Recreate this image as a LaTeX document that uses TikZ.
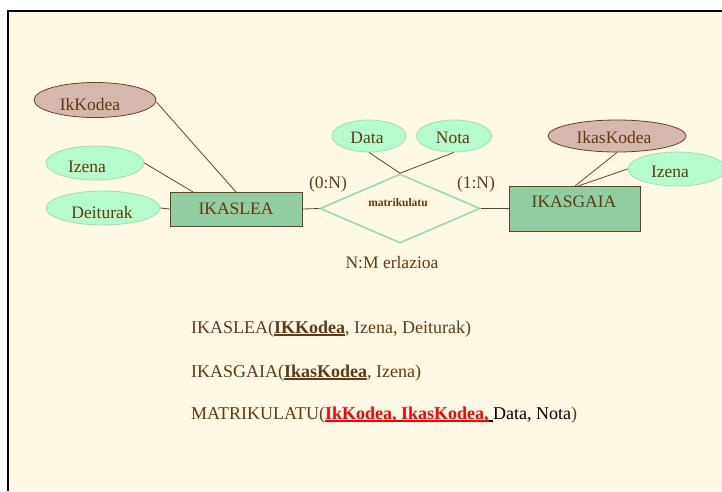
\documentclass[tikz,border=0pt]{standalone}
\usepackage{fontspec}
\setmainfont{Liberation Serif}
\usetikzlibrary{shapes.geometric}

\definecolor{txtbrown}{RGB}{99,58,16}
\definecolor{linebrown}{RGB}{105,66,28}
\definecolor{cream}{RGB}{255,248,228}
\definecolor{entfill}{RGB}{144,205,162}
\definecolor{attfill}{RGB}{180,252,204}
\definecolor{attline}{RGB}{160,222,184}
\definecolor{keyfill}{RGB}{212,184,175}
\definecolor{relline}{RGB}{150,222,182}

% underline in a given colour, under the text that follows
\newcommand\barunder[2]{\setbox0\hbox{#2}\rlap{\color{#1}\rule[-3pt]{\wd0}{1.8pt}}\box0}

\tikzset{
  lbl/.style={text=txtbrown, font=\fontsize{17.5}{20}\selectfont, inner sep=0pt},
  entity/.style={draw=linebrown, fill=entfill, line width=0.8pt, inner sep=0pt},
  attrib/.style={ellipse, draw=attline, fill=attfill, line width=0.8pt, inner sep=0pt},
  keyattrib/.style={ellipse, draw=linebrown, fill=keyfill, line width=0.8pt, inner sep=0pt},
  relship/.style={diamond, draw=relline, line width=1.6pt, inner sep=0pt, aspect=2.3},
  link/.style={draw=linebrown, line width=0.8pt},
  schema/.style={text=txtbrown, font=\fontsize{18}{22}\selectfont, inner sep=0pt, anchor=base west},
}

\begin{document}
\begin{tikzpicture}[x=1pt,y=-1pt]
\useasboundingbox (0,0) rectangle (722,491);
\fill[white] (0,0) rectangle (722,491);
\fill[cream] (8,11) rectangle (722,491);
\draw[black, line width=2pt] (8,491) -- (8,11) -- (722,11);

% IKASLEA entity and its attributes
\node[entity, minimum width=132, minimum height=34] (ikaslea) at (236,209) {};
\node[lbl, anchor=base] (ikaslealbl) at (236,214) {IKASLEA};
\node[keyattrib, minimum width=122, minimum height=35] (ikkodea) at (95,100) {};
\node[lbl, anchor=base] (ikkodealbl) at (90,110) {IkKodea};
\node[attrib, minimum width=98, minimum height=34] (izena1) at (95,163) {};
\node[lbl, anchor=base] (izena1lbl) at (87,172) {Izena};
\node[attrib, minimum width=114, minimum height=34] (deiturak) at (103,208) {};
\node[lbl, anchor=base] (deituraklbl) at (102,218) {Deiturak};

\coordinate (ik1) at (236,192);
\coordinate (ik2) at (193,192);
\draw[link] (ikkodea.east) ++(0,2) coordinate (ikk) (ikk) -- (ik1);
\draw[link] (izena1.east) -- (ik2);
\draw[link] (deiturak.east) -- (ikaslea.west);

% relationship
\node[relship, minimum width=160, minimum height=69] (matr) at (400,208.5) {};
\node[text=txtbrown, font=\fontsize{11.5}{13}\selectfont\bfseries, inner sep=0pt, anchor=base] (matrlbl) at (398,206) {matrikulatu};
\node[attrib, minimum width=74, minimum height=32] (data) at (369,136) {};
\node[lbl, anchor=base] (datalbl) at (367,143) {Data};
\node[attrib, minimum width=75, minimum height=32] (nota) at (454,136) {};
\node[lbl, anchor=base] (notalbl) at (453,143) {Nota};
\draw[link] (data.south) -- (matr.north);
\draw[link] (nota.south) -- (matr.north);

\node[lbl, anchor=base] (card1) at (328,188) {(0:N)};
\node[lbl, anchor=base] (card2) at (476,188) {(1:N)};
\node[lbl, anchor=base] (nm) at (392,268) {N:M erlazioa};

% IKASGAIA entity and its attributes
\node[entity, minimum width=131, minimum height=45] (ikasgaia) at (574.5,208.5) {};
\node[lbl, anchor=base] (ikasgaialbl) at (574,207) {IKASGAIA};
\node[keyattrib, minimum width=138, minimum height=32] (ikaskodea) at (617,136) {};
\node[lbl, anchor=base] (ikaskodealbl) at (614,143) {IkasKodea};
\node[attrib, minimum width=98, minimum height=34] (izena2) at (677,169) {};
\node[lbl, anchor=base] (izena2lbl) at (670,177) {Izena};

\coordinate (ig1) at (575,186);
\coordinate (ig2) at (578,186);
\draw[link] (ikaskodea.south) -- (ig1);
\draw[link] (izena2.west) -- (ig2);

\draw[link] (ikaslea.east) -- (matr.west);
\draw[link] (matr.east) -- (ikasgaia.west);

% relational schema
\node[schema] (s1) at (191,333) {IKASLEA(\barunder{txtbrown}{\bfseries IKKodea}, Izena, Deiturak)};
\node[schema] (s2) at (191,377) {IKASGAIA(\barunder{txtbrown}{\bfseries IkasKodea}, Izena)};
\node[schema] (s3) at (191,419) {MATRIKULATU({\color{red}\bfseries\barunder{red}{IkKodea,}\barunder{txtbrown}{\ }\barunder{red}{IkasKodea,}\barunder{black}{\ }}{\color{black}Data, Nota})};
\end{tikzpicture}
\end{document}
